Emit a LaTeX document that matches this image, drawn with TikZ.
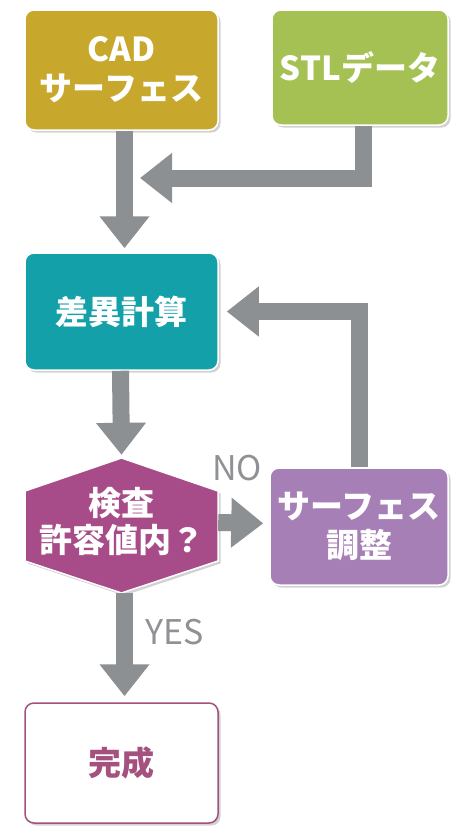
\documentclass[tikz,border=0pt]{standalone}
\usepackage{fontspec}
\setmainfont{Noto Sans CJK JP}
\usetikzlibrary{arrows.meta,shadows,calc}
\definecolor{cadc}{HTML}{C8A82C}
\definecolor{stlc}{HTML}{A5C153}
\definecolor{diffc}{HTML}{14A0A8}
\definecolor{hexc}{HTML}{A74C88}
\definecolor{surfc}{HTML}{A67FB6}
\definecolor{arrc}{HTML}{8D9093}
\definecolor{labc}{HTML}{8F9194}
\definecolor{donec}{HTML}{A5517F}
\tikzset{
  boxbase/.style={rounded corners=9pt, draw=white, line width=1.5pt, align=center,
    font=\fontsize{33}{39}\selectfont\bfseries, text=white,
    drop shadow={shadow xshift=2.5pt, shadow yshift=-2.5pt, opacity=0.35}},
  flowarrow/.style={draw=arrc, line width=17pt, -{Triangle[width=48pt,length=32pt]}},
  lab/.style={text=labc, font=\fontsize{34}{34}\selectfont},
}
\begin{document}
\begin{tikzpicture}[x=1pt,y=-1pt]
\useasboundingbox[fill=white] (0,0) rectangle (451,830);
% boxes
\node[boxbase, fill=cadc, minimum width=193pt, minimum height=120pt] (cad) at (121.5,70) {CAD\\サーフェス};
\node[boxbase, fill=stlc, minimum width=176pt, minimum height=115pt] (stl) at (360,67.5) {STLデータ};
\node[boxbase, fill=diffc, minimum width=193pt, minimum height=117pt] (diff) at (121.5,311.5) {差異計算};
\node[boxbase, fill=surfc, minimum width=178pt, minimum height=117pt] (surf) at (359,526.5) {サーフェス\\調整};
\node[boxbase, fill=white, draw=donec, text=donec, minimum width=193pt, minimum height=120pt] (done) at (121.5,763) {完成};
% hexagon
\fill[hexc, draw=white, line width=1.5pt, drop shadow={shadow xshift=2.5pt, shadow yshift=-2.5pt, opacity=0.35}]
  (121.5,458) -- (218,491) -- (218,561) -- (121.5,593) -- (25,561) -- (25,491) -- cycle;
\node[align=center, text=white, font=\fontsize{33}{38}\selectfont\bfseries,
  minimum width=193pt, minimum height=135pt] (hex) at (121.5,525.5) {\raisebox{6pt}{\begin{tabular}{@{}c@{}}検査\\[-2pt]許容値内？\end{tabular}}};
% connectors
\coordinate (join) at (140,178);
\draw[flowarrow, shorten >=4pt] ([xshift=3pt]cad.south) -- ([xshift=3pt]diff.north);
\draw[flowarrow] ([xshift=3pt]stl.south) |- (join);
\draw[flowarrow, shorten >=3pt] ([xshift=-1pt]diff.south) -- (hex.north);
\draw[flowarrow, shorten >=6pt] ([yshift=3pt]hex.east) -- ([yshift=3pt]surf.west);
\draw[flowarrow, shorten >=8pt] (surf.north) |- (diff.east);
\draw[flowarrow, shorten >=6pt] ([xshift=3pt]hex.south) -- ([xshift=3pt]done.north);
% labels
\node[lab] (no) at (237,468) {NO};
\node[lab] (yes) at (175,632) {YES};
\end{tikzpicture}
\end{document}
